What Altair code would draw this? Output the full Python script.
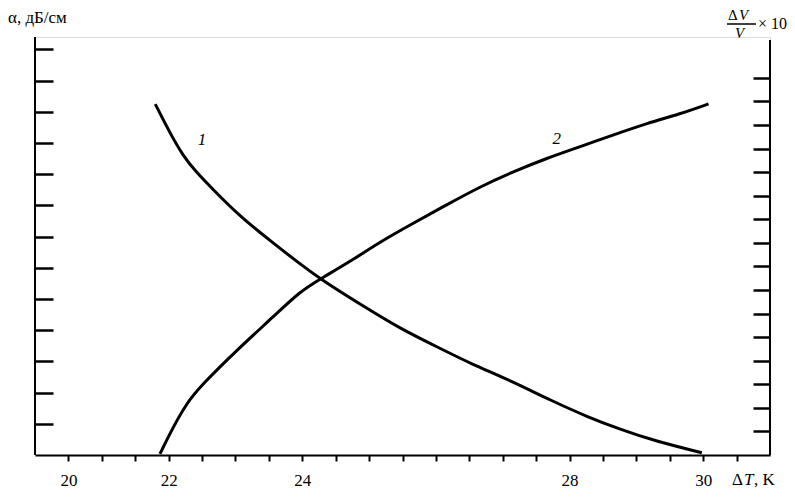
import altair as alt
import pandas as pd

# ---- data ----
# curve 1: attenuation alpha (left axis units)
t1 = [21.80, 22.02, 22.22, 22.40, 22.67, 23.07, 23.57, 23.92, 24.29, 24.97,
      25.46, 26.06, 26.56, 27.04, 27.76, 28.26, 28.76, 29.26, 29.98]
a1 = [11.25, 10.32, 9.58, 9.10, 8.50, 7.64, 6.79, 6.20, 5.61, 4.70,
      4.06, 3.42, 2.89, 2.46, 1.71, 1.23, 0.82, 0.46, 0.07]
# curve 2: dV/V x 10 (right axis units)
t2 = [21.87, 22.07, 22.27, 22.47, 23.02, 23.57, 23.97, 24.29, 24.77, 25.17,
      25.66, 26.16, 26.66, 27.16, 27.66, 28.16, 28.66, 29.16, 29.66, 30.08]
v2 = [0.05, 1.20, 2.19, 2.90, 4.45, 5.87, 6.95, 7.50, 8.30, 9.05,
      9.83, 10.61, 11.38, 12.02, 12.59, 13.08, 13.58, 14.07, 14.47, 14.89]

x_ticks = [20.5, 21, 21.5, 22, 22.5, 23, 23.5, 24, 24.5, 25, 25.5, 26, 26.5,
           27, 27.5, 28, 28.5, 29, 29.5, 30, 30.5]
x_labels = {20.5: "20", 22: "22", 24: "24", 28: "28", 30: "30"}
left_ticks = list(range(1, 14))
right_ticks = list(range(1, 17))

curve_labels_left = {"T": [22.5], "a": [10.1], "txt": ["1"]}
curve_labels_right = {"T": [27.81], "v": [13.41], "txt": ["2"]}

FONT = "Liberation Serif"
W, H = 735, 418

label_expr = " : ".join(
    [f"datum.value == {k} ? '{v}'" for k, v in x_labels.items()]) + " : ''"

xs = alt.Scale(domain=[20, 31], nice=False, zero=False)
x_axis = alt.Axis(values=x_ticks, labelExpr=label_expr, title=None, grid=False,
                  domainColor="black", domainWidth=2, tickColor="black",
                  tickWidth=2, tickSize=6, labelFont=FONT, labelFontSize=17,
                  labelColor="black", labelPadding=11, labelFlush=False,
                  labelOverlap=False)
x_enc = alt.X("T:Q", scale=xs, axis=x_axis)

yl_enc = alt.Y("a:Q", scale=alt.Scale(domain=[0, 13.4], nice=False, zero=False),
               axis=alt.Axis(orient="left", values=left_ticks, tickSize=18,
                             offset=-18, labels=False, domain=False, title=None,
                             grid=False, tickColor="black", tickWidth=2.5))
yr_enc = alt.Y("v:Q", scale=alt.Scale(domain=[0, 17.73], nice=False, zero=False),
               axis=alt.Axis(orient="right", values=right_ticks, tickSize=17,
                             offset=-17, labels=False, domain=False, title=None,
                             grid=False, tickColor="black", tickWidth=2.5))

df1 = pd.DataFrame({"T": t1, "a": a1})
df2 = pd.DataFrame({"T": t2, "v": v2})

c1 = alt.Chart(df1).mark_line(color="black", strokeWidth=3, interpolate="basis").encode(
    x=x_enc, y=yl_enc)
l1 = alt.Chart(pd.DataFrame(curve_labels_left)).mark_text(
    font=FONT, fontSize=17, fontStyle="italic", color="black").encode(
    x=x_enc, y=yl_enc, text="txt:N")
left = alt.layer(c1, l1)

c2 = alt.Chart(df2).mark_line(color="black", strokeWidth=3, interpolate="basis").encode(
    x=x_enc, y=yr_enc)
l2 = alt.Chart(pd.DataFrame(curve_labels_right)).mark_text(
    font=FONT, fontSize=17, fontStyle="italic", color="black").encode(
    x=x_enc, y=yr_enc, text="txt:N")
right = alt.layer(c2, l2)

one = pd.DataFrame({"k": [0]})

def txt(s, x, y, size=17, style="normal", align="left"):
    return alt.Chart(one).mark_text(font=FONT, fontSize=size, fontStyle=style,
                                    color="black", align=align, baseline="middle").encode(
        x=alt.value(x), y=alt.value(y), text=alt.value(s))

frame_left = alt.Chart(one).mark_rule(color="black", strokeWidth=2).encode(
    x=alt.value(0), y=alt.value(0), y2=alt.value(H))
frame_right = alt.Chart(one).mark_rule(color="black", strokeWidth=2).encode(
    x=alt.value(W), y=alt.value(3), y2=alt.value(H))
frac_line = alt.Chart(one).mark_rule(color="black", strokeWidth=1.5).encode(
    x=alt.value(692), x2=alt.value(721), y=alt.value(-13))

LBL_Y = 443  # row of the bottom labels (plot coords)
annotations = [
    txt("α, дБ/см", -27, -19),
    txt("Δ", 693, -22, size=15),
    txt("V", 704, -22, size=15, style="italic"),
    txt("V", 700, -4, size=15, style="italic"),
    txt("× 10", 723, -13, size=16),
    txt("Δ", 697, LBL_Y),
    txt("T", 709, LBL_Y, style="italic"),
    txt(", K", 719, LBL_Y),
]

chart = alt.layer(left, right, frame_left, frame_right, frac_line, *annotations).resolve_scale(
    y="independent").properties(
    width=W, height=H,
    autosize=alt.AutoSizeParams(type="none"),
    padding={"left": 27, "top": 29, "right": 17, "bottom": 33},
).configure_view(stroke=None).configure(background="white")

chart.save("out.html", embed_options={"renderer": "svg", "actions": False})
